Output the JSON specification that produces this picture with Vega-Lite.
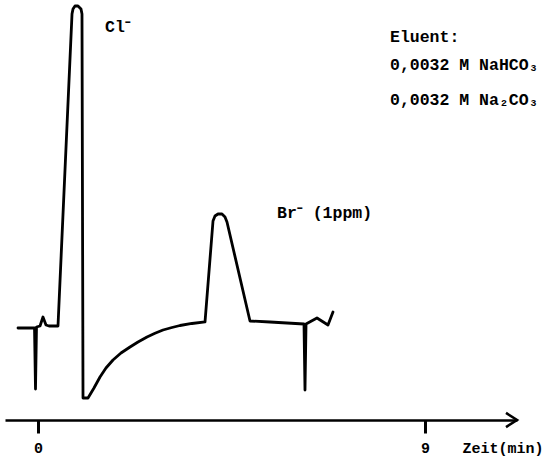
{
  "$schema": "https://vega.github.io/schema/vega-lite/v6.json",
  "width": 512,
  "height": 420,
  "autosize": {"type": "none"},
  "padding": {"left": 5, "top": 0, "right": 29, "bottom": 40},
  "background": "white",
  "config": {"view": {"stroke": null}},
  "datasets": {
    "trace": [
      {"i": 1, "t": -0.465, "s": 0},
      {"i": 2, "t": -0.081, "s": 0},
      {"i": 3, "t": -0.058, "s": -19.06},
      {"i": 4, "t": -0.035, "s": 0.31},
      {"i": 5, "t": 0.047, "s": 0.63},
      {"i": 6, "t": 0.116, "s": 3.44},
      {"i": 7, "t": 0.186, "s": 0.94},
      {"i": 8, "t": 0.256, "s": 0.63},
      {"i": 9, "t": 0.465, "s": 0.63},
      {"i": 10, "t": 0.791, "s": 98.13},
      {"i": 11, "t": 0.814, "s": 99.69},
      {"i": 12, "t": 0.86, "s": 100.63},
      {"i": 13, "t": 0.93, "s": 100.63},
      {"i": 14, "t": 1.0, "s": 99.69},
      {"i": 15, "t": 1.023, "s": 98.13},
      {"i": 16, "t": 1.047, "s": -21.88},
      {"i": 17, "t": 1.163, "s": -21.88},
      {"i": 18, "t": 1.302, "s": -18.75},
      {"i": 19, "t": 1.442, "s": -15.31},
      {"i": 20, "t": 1.581, "s": -12.5},
      {"i": 21, "t": 1.744, "s": -10.0},
      {"i": 22, "t": 1.93, "s": -7.81},
      {"i": 23, "t": 2.14, "s": -5.94},
      {"i": 24, "t": 2.326, "s": -4.38},
      {"i": 25, "t": 2.535, "s": -2.81},
      {"i": 26, "t": 2.721, "s": -1.66},
      {"i": 27, "t": 2.907, "s": -0.63},
      {"i": 28, "t": 3.116, "s": 0.16},
      {"i": 29, "t": 3.302, "s": 0.78},
      {"i": 30, "t": 3.581, "s": 1.41},
      {"i": 31, "t": 3.884, "s": 1.88},
      {"i": 32, "t": 4.07, "s": 33.44},
      {"i": 33, "t": 4.116, "s": 35.0},
      {"i": 34, "t": 4.186, "s": 35.63},
      {"i": 35, "t": 4.279, "s": 35.63},
      {"i": 36, "t": 4.349, "s": 34.69},
      {"i": 37, "t": 4.395, "s": 33.13},
      {"i": 38, "t": 4.93, "s": 2.19},
      {"i": 39, "t": 5.395, "s": 1.88},
      {"i": 40, "t": 6.186, "s": 1.25},
      {"i": 41, "t": 6.209, "s": -19.38},
      {"i": 42, "t": 6.233, "s": 1.25},
      {"i": 43, "t": 6.488, "s": 3.13},
      {"i": 44, "t": 6.744, "s": 0.94},
      {"i": 45, "t": 6.86, "s": 5.0}
    ],
    "labels": [
      {"label": "Cl⁻", "t": 1.558, "s": 92.5},
      {"label": "Br⁻ (1ppm)", "t": 5.558, "s": 34.4},
      {"label": "Eluent:", "t": 8.186, "s": 89.4},
      {"label": "0,0032 M NaHCO₃", "t": 8.186, "s": 80.6},
      {"label": "0,0032 M Na₂CO₃", "t": 8.186, "s": 69.7}
    ],
    "arrow": [{"t": 11.1395, "s": -28.75}]
  },
  "layer": [
    {
      "data": {"name": "trace"},
      "mark": {"type": "line", "color": "black", "strokeWidth": 2.8, "strokeJoin": "round", "strokeCap": "round", "clip": false},
      "encoding": {
        "x": {
          "field": "t", "type": "quantitative",
          "scale": {"domain": [-0.7674, 11.1395], "nice": false, "zero": false},
          "axis": {
            "values": [0, 9],
            "format": "d",
            "grid": false,
            "domainColor": "black",
            "domainWidth": 2.5,
            "tickColor": "black",
            "tickWidth": 3,
            "tickSize": 13,
            "labelFont": "Liberation Mono",
            "labelFontWeight": "bold",
            "labelFontSize": 15,
            "labelColor": "black",
            "labelBaseline": "middle",
            "labelPadding": 14,
            "title": "Zeit(min)",
            "titleFont": "Liberation Mono",
            "titleFontWeight": "bold",
            "titleFontSize": 15,
            "titleColor": "black",
            "titleAnchor": "start",
            "titleAlign": "left",
            "titleBaseline": "middle",
            "titleX": 457,
            "titleY": 27
          }
        },
        "y": {
          "field": "s", "type": "quantitative",
          "scale": {"domain": [-28.75, 102.5], "nice": false, "zero": false},
          "axis": null
        },
        "order": {"field": "i", "type": "quantitative"}
      }
    },
    {
      "data": {"name": "arrow"},
      "mark": {"type": "point", "shape": "M -1 -0.64 L 0 0 L -1 0.64", "size": 484, "filled": false, "stroke": "black", "strokeWidth": 2.6, "opacity": 1, "clip": false},
      "encoding": {
        "x": {"field": "t", "type": "quantitative"},
        "y": {"field": "s", "type": "quantitative"}
      }
    },
    {
      "data": {"name": "labels"},
      "mark": {"type": "text", "align": "left", "baseline": "alphabetic", "font": "Liberation Mono", "fontWeight": "bold", "fontSize": 16.5, "color": "black", "clip": false},
      "encoding": {
        "x": {"field": "t", "type": "quantitative"},
        "y": {"field": "s", "type": "quantitative"},
        "text": {"field": "label", "type": "nominal"}
      }
    }
  ]
}
